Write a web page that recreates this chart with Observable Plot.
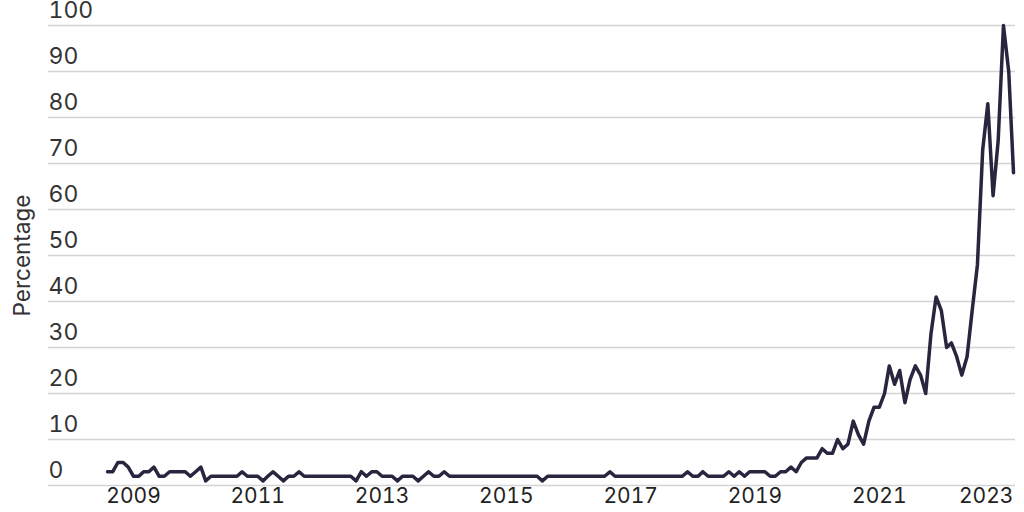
<!DOCTYPE html>
<html>
<head>
<meta charset="utf-8">
<script src="https://cdn.jsdelivr.net/npm/d3@7"></script>
<script src="https://cdn.jsdelivr.net/npm/@observablehq/plot@0.6"></script>
<style>
  html, body { margin: 0; padding: 0; background: #fff; }
  #chart svg { display: block; }
</style>
</head>
<body>
<div id="chart"></div>
<script>
// Monthly series, first value = August 2008
const startYear = 2008;
const startMonthIndex = 7; // August (0-based)
const values = [
  3, 3, 5, 5, 4, 2, 2, 3, 3, 4,
  2, 2, 3, 3, 3, 3, 2, 3, 4, 1,
  2, 2, 2, 2, 2, 2, 3, 2, 2, 2,
  1, 2, 3, 2, 1, 2, 2, 3, 2, 2,
  2, 2, 2, 2, 2, 2, 2, 2, 1, 3,
  2, 3, 3, 2, 2, 2, 1, 2, 2, 2,
  1, 2, 3, 2, 2, 3, 2, 2, 2, 2,
  2, 2, 2, 2, 2, 2, 2, 2, 2, 2,
  2, 2, 2, 2, 1, 2, 2, 2, 2, 2,
  2, 2, 2, 2, 2, 2, 2, 3, 2, 2,
  2, 2, 2, 2, 2, 2, 2, 2, 2, 2,
  2, 2, 3, 2, 2, 3, 2, 2, 2, 2,
  3, 2, 3, 2, 3, 3, 3, 3, 2, 2,
  3, 3, 4, 3, 5, 6, 6, 6, 8, 7,
  7, 10, 8, 9, 14, 11, 9, 14, 17, 17,
  20, 26, 22, 25, 18, 23, 26, 24, 20, 33,
  41, 38, 30, 31, 28, 24, 28, 38, 48, 73,
  83, 63, 75, 100, 90, 68
];
const yTicks = [0, 10, 20, 30, 40, 50, 60, 70, 80, 90, 100];
const xTickYears = [2009, 2011, 2013, 2015, 2017, 2019, 2021];
const lastTickYear = 2023;
const yLabel = "Percentage";

const data = values.map((v, i) => ({
  date: new Date(Date.UTC(startYear, startMonthIndex + i, 1)),
  value: v
}));
const xTicks = xTickYears.map(y => new Date(Date.UTC(y, 0, 1)));
const lastTick = [new Date(Date.UTC(lastTickYear, 0, 1))];

const chart = Plot.plot({
  width: 1024,
  height: 512,
  marginLeft: 48,
  marginRight: 9,
  marginTop: 25,
  marginBottom: 27,
  x: { type: "utc", domain: d3.extent(data, d => d.date), insetLeft: 59, insetRight: 2 },
  y: { domain: [0, 100] },
  style: { fontFamily: "Inter, 'DejaVu Sans', sans-serif", fontSize: "21px", color: "#333", background: "#fff" },
  marks: [
    Plot.ruleY(yTicks, { stroke: "#d4d4d4", strokeWidth: 1.5 }),
    Plot.axisY(yTicks, { anchor: "left", tickSize: 0, tickPadding: 0, textAnchor: "start", dy: -15, fontSize: 23, label: null, fill: "#333" }),
    Plot.axisX(xTicks, { tickSize: 0, tickPadding: 3, tickFormat: "%Y", label: null, fontSize: 21, fill: "#222" }),
    Plot.axisX(lastTick, { tickSize: 0, tickPadding: 3, tickFormat: "%Y", textAnchor: "end", dx: 10, label: null, fontSize: 21, fill: "#222" }),
    Plot.text([yLabel], { frameAnchor: "left", textAnchor: "middle", text: d => d, rotate: -90, dx: -26, fontSize: 22.5, fill: "#333" }),
    Plot.line(data, { x: "date", y: "value", stroke: "#28253f", strokeWidth: 3.5 })
  ]
});
document.getElementById("chart").appendChild(chart);
</script>
</body>
</html>
